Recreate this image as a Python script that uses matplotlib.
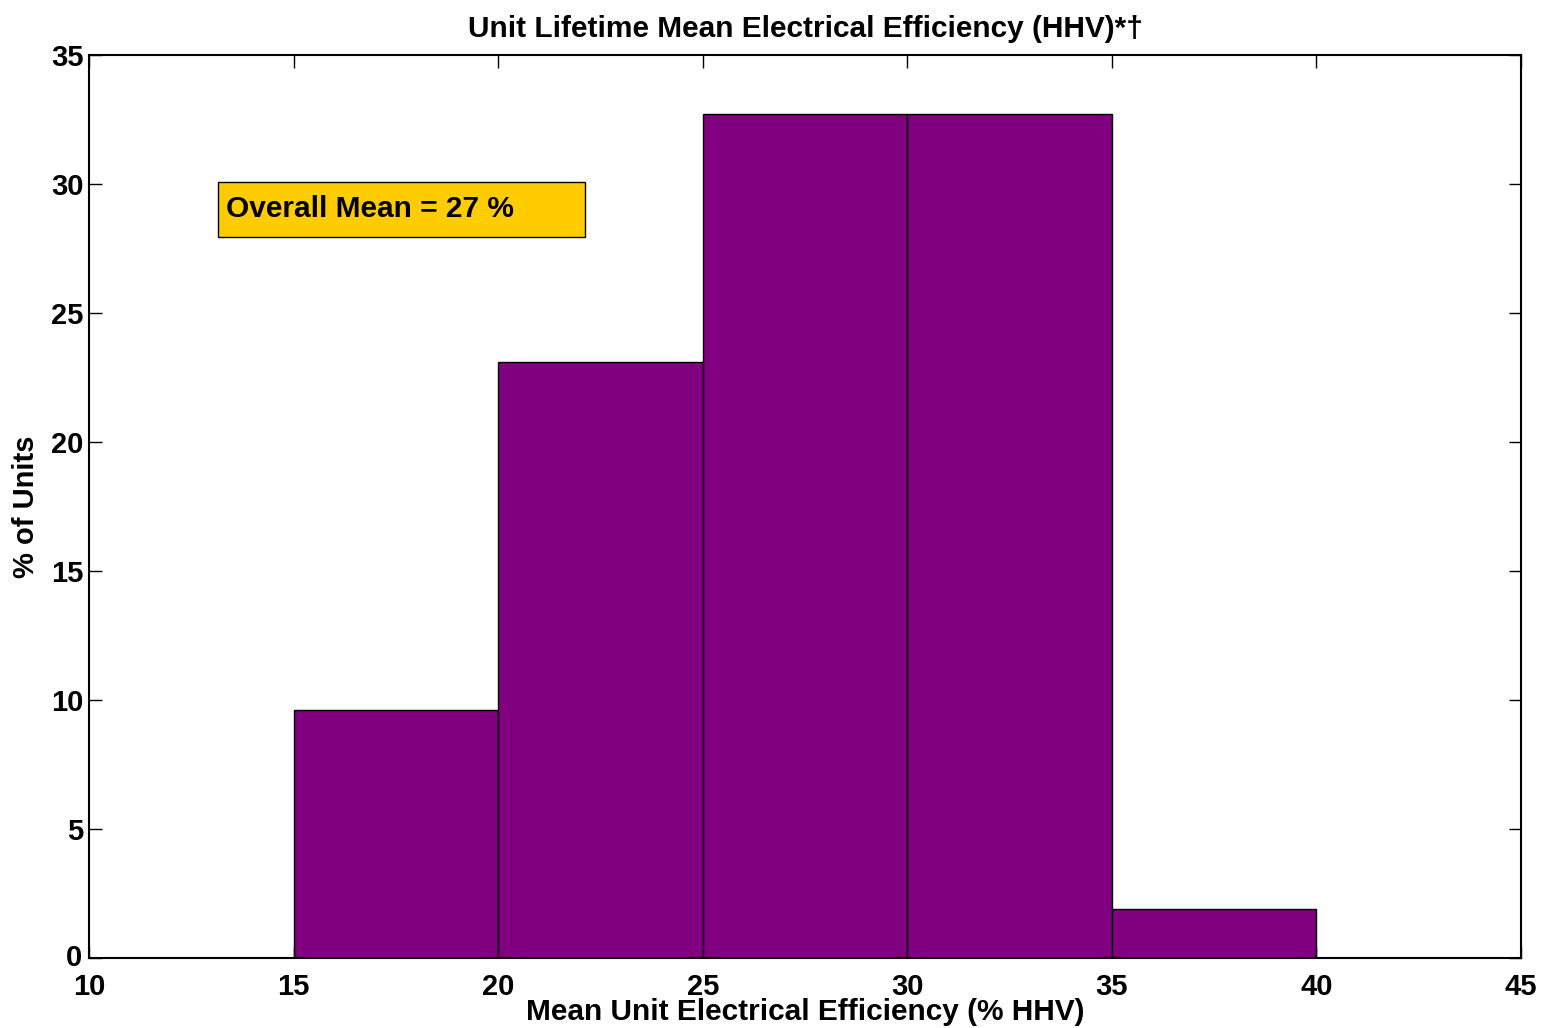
import matplotlib
matplotlib.use("Agg")
import matplotlib.pyplot as plt
import matplotlib.transforms as mtransforms
from matplotlib.patches import Rectangle

plt.rcParams['font.family'] = ['Liberation Sans', 'DejaVu Sans']
plt.rcParams['font.weight'] = 'bold'

bin_edges = [15, 20, 25, 30, 35, 40]
percent_units = [9.6, 23.1, 32.7, 32.7, 1.9]
title = "Unit Lifetime Mean Electrical Efficiency (HHV)*\u2020"
xlabel = "Mean Unit Electrical Efficiency (% HHV)"
ylabel = "% of Units"
annotation = "Overall Mean = 27 %"
xticks = [10, 15, 20, 25, 30, 35, 40, 45]
yticks = [0, 5, 10, 15, 20, 25, 30, 35]

fig = plt.figure(figsize=(15.47, 10.28), dpi=100)
ax = fig.add_axes([0.0575, 0.0681, 0.9257, 0.8784])

lefts = bin_edges[:-1]
widths = [b - a for a, b in zip(bin_edges[:-1], bin_edges[1:])]
ax.bar(lefts, percent_units, width=widths, align='edge', color='#800080',
       edgecolor='black', linewidth=1.0, zorder=2)

ax.set_xlim(10, 45)
ax.set_ylim(0, 35)
ax.set_xticks(xticks)
ax.set_yticks(yticks)
ax.tick_params(direction='in', length=9, width=1, top=True, right=True,
               labelsize=21)
ax.tick_params(axis='x', pad=10.5)
ax.tick_params(axis='y', pad=4)
for lab in ax.get_xticklabels() + ax.get_yticklabels():
    lab.set_fontweight('bold')
for s in ax.spines.values():
    s.set_linewidth(1.5)

# nudge the "0" y tick label up a little so it does not collide with "10"
zero_lab = ax.get_yticklabels()[0]
zero_lab.set_transform(zero_lab.get_transform() +
                       mtransforms.ScaledTranslation(-1 / 100, 3 / 100, fig.dpi_scale_trans))

ax.set_title(title, fontsize=21.5, fontweight='bold', pad=13)
ax.set_xlabel(xlabel, fontsize=21.5, fontweight='bold', labelpad=-2)
ax.set_ylabel(ylabel, fontsize=21, fontweight='bold', labelpad=8)

ax.add_patch(Rectangle((13.15, 27.95), 8.97, 2.13, facecolor='#FFCC00',
                       edgecolor='black', linewidth=1.0, zorder=3))
ax.text(13.35, 29.05, annotation, fontsize=21.5, fontweight='bold',
        ha='left', va='center', zorder=4)

fig.savefig("out.png", dpi=100)
